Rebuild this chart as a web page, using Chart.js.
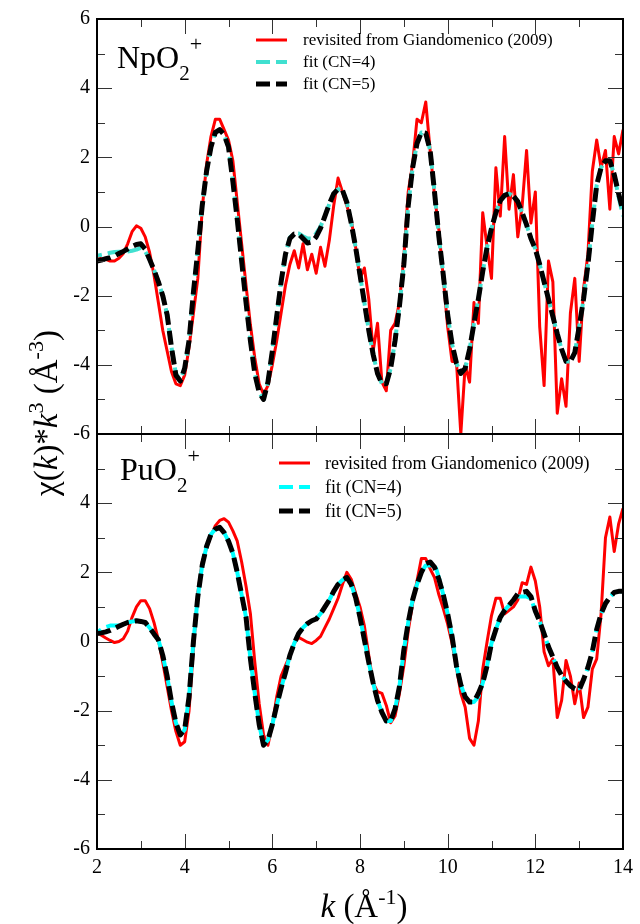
<!DOCTYPE html>
<html>
<head>
<meta charset="utf-8">
<script src="https://cdn.jsdelivr.net/npm/chart.js@4.4.1/dist/chart.umd.min.js"></script>
<style>
  html, body { margin: 0; padding: 0; background: #fff; }
  #wrap { position: relative; width: 640px; height: 924px; }
</style>
</head>
<body>
<div id="wrap"><canvas id="chi" width="640" height="924"></canvas></div>
<script>
// EXAFS chi(k)*k^3 for NpO2+ (top) and PuO2+ (bottom): data vs. two fits

const SERIF = "'Liberation Serif', 'Times New Roman', serif";

const kGrid = [
  2.0, 2.1, 2.2, 2.3, 2.4, 2.5, 2.6, 2.7, 2.8, 2.9,
  3.0, 3.1, 3.2, 3.3, 3.4, 3.5, 3.6, 3.7, 3.8, 3.9,
  4.0, 4.1, 4.2, 4.3, 4.4, 4.5, 4.6, 4.7, 4.8, 4.9,
  5.0, 5.1, 5.2, 5.3, 5.4, 5.5, 5.6, 5.7, 5.8, 5.9,
  6.0, 6.1, 6.2, 6.3, 6.4, 6.5, 6.6, 6.7, 6.8, 6.9,
  7.0, 7.1, 7.2, 7.3, 7.4, 7.5, 7.6, 7.7, 7.8, 7.9,
  8.0, 8.1, 8.2, 8.3, 8.4, 8.5, 8.6, 8.7, 8.8, 8.9,
  9.0, 9.1, 9.2, 9.3, 9.4, 9.5, 9.6, 9.7, 9.8, 9.9,
  10.0, 10.1, 10.2, 10.3, 10.4, 10.5, 10.6, 10.7, 10.8, 10.9,
  11.0, 11.1, 11.2, 11.3, 11.4, 11.5, 11.6, 11.7, 11.8, 11.9,
  12.0, 12.1, 12.2, 12.3, 12.4, 12.5, 12.6, 12.7, 12.8, 12.9,
  13.0, 13.1, 13.2, 13.3, 13.4, 13.5, 13.6, 13.7, 13.8, 13.9,
  14.0
];

// NpO2+ panel
const npExp = [
  -0.9, -0.93, -0.95, -1.0, -1.0, -0.92, -0.78, -0.5, -0.15, 0.02,
  -0.05, -0.3, -0.75, -1.4, -2.2, -3.0, -3.6, -4.2, -4.55, -4.6,
  -4.3, -3.5, -2.5, -1.5, 0.5, 1.8, 2.6, 3.1, 3.1, 2.8,
  2.5, 1.9, 0.7, -0.5, -1.7, -2.85, -3.8, -4.55, -4.85, -4.6,
  -4.0, -3.3, -2.5, -1.7, -1.1, -0.7, -1.2, -0.5, -1.25, -0.8,
  -1.35, -0.6, -1.15, -0.4, 0.6, 1.4, 1.0, 0.6, 0.2, -0.6,
  -1.5, -1.2, -2.1, -3.6, -2.8, -4.5, -4.75, -3.0, -2.8, -2.2,
  -0.9, 1.0, 1.8, 3.1, 3.0, 3.6, 2.2, 0.9, -0.1, -1.5,
  -2.9, -3.9, -3.9, -6.0, -4.0, -4.5, -2.2, -2.8, 0.4, -0.6,
  -1.5, 1.7, 0.3, 2.6, 0.5, 1.5, -0.3, 0.6, 2.2, 0.1,
  1.0, -2.9, -4.6, -1.0, -1.6, -5.4, -4.4, -5.2, -2.5, -1.5,
  -3.9, -1.8, -0.8, 1.6, 2.5, 1.7, 2.2, 0.5, 2.6, 2.1,
  2.8
];
const npFit4 = [
  -0.85, -0.82, -0.79, -0.76, -0.74, -0.73, -0.73, -0.72, -0.7, -0.67,
  -0.62, -0.72, -0.95, -1.25, -1.6, -2.0, -2.55, -3.5, -4.25, -4.45,
  -4.1, -3.3, -1.9, -0.7, 0.6, 1.6, 2.3, 2.72, 2.8, 2.65,
  2.3, 1.3, 0.2, -1.0, -2.2, -3.3, -4.25, -4.8, -5.0, -4.5,
  -3.6, -2.6, -1.6, -0.8, -0.32, -0.2, -0.2, -0.28, -0.35, -0.35,
  -0.2, 0.0, 0.3, 0.65, 0.95, 1.08, 1.05, 0.7, 0.1, -0.6,
  -1.4, -2.2, -3.0, -3.7, -4.25, -4.55, -4.55, -4.1, -3.3, -2.3,
  -1.1, 0.6, 1.7, 2.4, 2.72, 2.7, 2.2, 1.0, -0.3, -1.4,
  -2.55, -3.4, -3.95, -4.25, -4.1, -3.55, -2.8, -2.1, -1.3, -0.6,
  -0.05, 0.4, 0.75, 0.9, 0.95, 0.88, 0.72, 0.4, 0.05, -0.35,
  -0.65, -1.1, -1.6, -2.1, -2.6, -3.1, -3.55, -3.9, -3.9, -3.65,
  -2.9, -2.1, -1.1, 0.1, 1.2, 1.7, 1.9, 1.9, 1.5, 0.85,
  0.3
];
const npFit5 = [
  -1.0, -0.97, -0.93, -0.9, -0.85, -0.78, -0.72, -0.65, -0.58, -0.52,
  -0.5, -0.65, -0.95, -1.25, -1.6, -2.0, -2.55, -3.5, -4.3, -4.47,
  -4.1, -3.3, -1.9, -0.7, 0.6, 1.6, 2.3, 2.72, 2.8, 2.65,
  2.3, 1.3, 0.2, -1.0, -2.2, -3.3, -4.25, -4.8, -5.0, -4.5,
  -3.6, -2.6, -1.6, -0.8, -0.35, -0.22, -0.22, -0.35, -0.48, -0.45,
  -0.3, -0.05, 0.3, 0.65, 0.95, 1.08, 1.05, 0.7, 0.1, -0.6,
  -1.4, -2.2, -3.0, -3.7, -4.25, -4.55, -4.55, -4.1, -3.3, -2.3,
  -1.1, 0.6, 1.7, 2.4, 2.72, 2.7, 2.2, 1.0, -0.3, -1.4,
  -2.55, -3.4, -3.95, -4.25, -4.1, -3.55, -2.8, -2.1, -1.3, -0.6,
  -0.05, 0.4, 0.75, 0.9, 0.95, 0.88, 0.72, 0.4, 0.05, -0.35,
  -0.65, -1.1, -1.6, -2.1, -2.6, -3.1, -3.55, -3.9, -3.9, -3.65,
  -2.9, -2.1, -1.1, 0.1, 1.2, 1.7, 1.9, 1.9, 1.5, 0.95,
  0.45
];

// PuO2+ panel
const puExp = [
  0.26, 0.18, 0.1, 0.03, -0.03, 0.0, 0.08, 0.3, 0.7, 1.0,
  1.18, 1.18, 0.95, 0.55, 0.05, -0.6, -1.3, -2.0, -2.6, -3.0,
  -2.9, -2.0, -0.2, 1.4, 2.3, 2.7, 3.05, 3.35, 3.5, 3.55,
  3.45, 3.2, 2.9, 2.3, 1.6, 0.8, -0.6, -1.8, -2.7, -3.0,
  -2.4, -1.6, -1.0, -0.7, -0.4, -0.05, 0.12, 0.05, -0.02, -0.06,
  0.03, 0.15, 0.4, 0.65, 0.95, 1.25, 1.65, 2.0, 1.8, 1.4,
  1.0, 0.45, -0.4, -1.2, -1.45, -1.5, -1.85, -2.35, -2.15, -1.5,
  -0.7, 0.3, 1.1, 1.75, 2.4, 2.4, 2.1, 1.85, 1.35, 0.95,
  0.5, -0.05, -0.75, -1.5, -1.9, -2.8, -3.0, -2.3, -0.8, 0.0,
  0.75, 1.25, 1.25, 0.8, 0.9, 1.0, 1.2, 1.7, 1.65, 2.15,
  1.75, 1.0, -0.3, -0.7, -0.5, -2.2, -1.7, -0.55, -1.0, -1.8,
  -1.2, -2.2, -1.9, -0.8, -0.5, 0.8, 3.0, 3.6, 2.6, 3.4,
  3.85
];
const puFit4 = [
  0.26, 0.35, 0.42, 0.46, 0.46, 0.46, 0.5, 0.55, 0.58, 0.6,
  0.58, 0.55, 0.4, 0.22, 0.05, -0.4, -1.0, -1.75, -2.35, -2.7,
  -2.55, -1.6, 0.0, 1.3, 2.2, 2.75, 3.1, 3.25, 3.3, 3.15,
  2.9, 2.55, 2.0, 1.35, 0.7, -0.5, -1.5, -2.4, -3.0, -2.85,
  -2.4, -1.85, -1.35, -0.9, -0.4, -0.05, 0.23, 0.4, 0.52, 0.6,
  0.65, 0.8, 1.0, 1.2, 1.45, 1.65, 1.78, 1.85, 1.65, 1.27,
  0.7, 0.05, -0.6, -1.2, -1.7, -2.05, -2.3, -2.3, -1.95, -1.3,
  -0.25, 0.55, 1.2, 1.65, 2.0, 2.2, 2.2, 2.25, 1.85, 1.35,
  0.8, 0.15, -0.7, -1.25, -1.6, -1.75, -1.75, -1.6, -1.2, -0.7,
  -0.05, 0.35, 0.7, 0.9, 1.05, 1.2, 1.3, 1.3, 1.3, 1.25,
  0.88, 0.58, 0.22, -0.15, -0.45, -0.75, -0.98, -1.15, -1.3, -1.37,
  -1.35, -1.1, -0.75, -0.3, 0.35, 0.8, 1.1, 1.28, 1.42, 1.45,
  1.45
];
const puFit5 = [
  0.23, 0.25, 0.28, 0.32, 0.38, 0.44, 0.5, 0.55, 0.58, 0.6,
  0.58, 0.55, 0.4, 0.22, 0.05, -0.4, -1.0, -1.75, -2.35, -2.7,
  -2.55, -1.6, 0.0, 1.3, 2.2, 2.75, 3.1, 3.25, 3.3, 3.15,
  2.9, 2.55, 2.0, 1.35, 0.7, -0.5, -1.5, -2.4, -3.0, -2.85,
  -2.4, -1.85, -1.35, -0.9, -0.4, -0.05, 0.23, 0.4, 0.52, 0.6,
  0.65, 0.8, 1.0, 1.2, 1.45, 1.65, 1.78, 1.85, 1.65, 1.27,
  0.7, 0.05, -0.6, -1.2, -1.7, -2.05, -2.3, -2.3, -1.95, -1.3,
  -0.25, 0.55, 1.2, 1.65, 2.0, 2.25, 2.3, 2.15, 1.8, 1.35,
  0.8, 0.15, -0.7, -1.25, -1.6, -1.75, -1.75, -1.5, -1.2, -0.7,
  -0.05, 0.35, 0.7, 0.9, 1.05, 1.2, 1.38, 1.42, 1.45, 1.3,
  0.88, 0.58, 0.22, -0.15, -0.45, -0.75, -0.98, -1.15, -1.28, -1.37,
  -1.4, -1.1, -0.75, -0.3, 0.35, 0.8, 1.1, 1.28, 1.42, 1.45,
  1.45
];

const seriesLabels = ['revisited from Giandomenico (2009)', 'fit (CN=4)', 'fit (CN=5)'];
const kRange = [2, 14];
const chiRange = [-6, 6];

function pts(ys) {
  return kGrid.map((k, i) => ({ x: k, y: ys[i] }));
}

function fontStr(size, italic) {
  return (italic ? 'italic ' : '') + size + 'px ' + SERIF;
}

// draws a run of text pieces (for italics / sub- and superscripts)
function richWidth(ctx, parts) {
  let w = 0;
  parts.forEach(p => { ctx.font = fontStr(p.s, p.i); w += ctx.measureText(p.t).width; });
  return w;
}
function drawRich(ctx, parts, x, y) {
  ctx.textBaseline = 'alphabetic';
  ctx.textAlign = 'left';
  parts.forEach(p => {
    ctx.font = fontStr(p.s, p.i);
    ctx.fillText(p.t, x, y - (p.r || 0));
    x += ctx.measureText(p.t).width;
  });
}

const frameTicks = {
  id: 'frameTicks',
  afterDraw(chart) {
    const { ctx, chartArea: a, scales } = chart;
    const xs = scales.x;
    ctx.save();
    ctx.strokeStyle = '#000';
    const seg = (x1, y1, x2, y2) => { ctx.beginPath(); ctx.moveTo(x1, y1); ctx.lineTo(x2, y2); ctx.stroke(); };
    ['yNp', 'yPu'].forEach(id => {
      const ys = scales[id];
      const top = ys.getPixelForValue(chiRange[1]);
      const bot = ys.getPixelForValue(chiRange[0]);
      ctx.lineWidth = 1;
      ctx.strokeStyle = '#333';
      for (let v = chiRange[0]; v <= chiRange[1]; v++) {
        const py = Math.round(ys.getPixelForValue(v)) + 0.5;
        const len = v % 2 === 0 ? 15 : 8;
        seg(a.left, py, a.left + len, py);
        seg(a.right, py, a.right - len, py);
      }
      for (let k = kRange[0]; k <= kRange[1]; k++) {
        const px = Math.round(xs.getPixelForValue(k)) + 0.5;
        const len = k % 2 === 0 ? 15 : 8;
        seg(px, bot, px, bot - len);
        seg(px, top, px, top + len);
      }
      ctx.strokeStyle = '#000';
      ctx.lineWidth = 2;
      ctx.strokeRect(a.left, top, a.right - a.left, bot - top);
    });
    ctx.restore();
  }
};

const annotations = {
  id: 'annotations',
  afterDraw(chart) {
    const { ctx } = chart;
    ctx.save();
    ctx.fillStyle = '#000';

    // panel labels
    const panels = [
      { x: 117, y: 68, el: 'NpO' },
      { x: 120, y: 480, el: 'PuO' }
    ];
    panels.forEach(p => {
      drawRich(ctx, [
        { t: p.el, s: 32 },
        { t: '2', s: 21, r: -12 },
        { t: '+', s: 22, r: 17 }
      ], p.x, p.y);
    });

    // legends
    const legends = [
      { id: 'yNp', x0: 256, x1: 287, tx: 303, y0: 40, dy: 22, size: 17 },
      { id: 'yPu', x0: 279, x1: 310, tx: 325, y0: 463, dy: 24, size: 18 }
    ];
    legends.forEach(L => {
      const sets = chart.data.datasets.filter(d => d.yAxisID === L.id);
      sets.forEach((d, i) => {
        const y = L.y0 + i * L.dy;
        ctx.save();
        ctx.strokeStyle = d.borderColor;
        ctx.lineWidth = d.borderWidth;
        ctx.setLineDash(d.borderDash || []);
        ctx.beginPath();
        ctx.moveTo(L.x0, y);
        ctx.lineTo(L.x1, y);
        ctx.stroke();
        ctx.restore();
        ctx.font = fontStr(L.size, false);
        ctx.textAlign = 'left';
        ctx.textBaseline = 'middle';
        ctx.fillText(d.label, L.tx, y + 1);
      });
    });

    // x axis title
    const xt = [
      { t: 'k', s: 33, i: true },
      { t: ' (Å', s: 33 },
      { t: '-1', s: 22, r: 13 },
      { t: ')', s: 33 }
    ];
    const xw = richWidth(ctx, xt);
    drawRich(ctx, xt, 364 - xw / 2, 917);

    // y axis title (rotated)
    const yt = [
      { t: 'χ(', s: 33 },
      { t: 'k', s: 33, i: true },
      { t: ')*', s: 33 },
      { t: 'k', s: 33, i: true },
      { t: '3', s: 22, r: 14 },
      { t: ' (Å', s: 33 },
      { t: '-3', s: 22, r: 14 },
      { t: ')', s: 33 }
    ];
    const yw = richWidth(ctx, yt);
    ctx.translate(57, 413);
    ctx.rotate(-Math.PI / 2);
    drawRich(ctx, yt, -yw / 2, 0);
    ctx.restore();
  }
};

const yScale = (hideTop) => ({
  type: 'linear',
  stack: 'chi',
  stackWeight: 1,
  min: chiRange[0],
  max: chiRange[1],
  grid: { display: false, drawTicks: false },
  border: { display: false },
  ticks: {
    stepSize: 2,
    padding: 7,
    color: '#000',
    font: { family: SERIF, size: 20 },
    callback: v => (hideTop && v === chiRange[1]) ? '' : String(v)
  },
  afterFit: s => { s.width = 97; }
});

const lineSet = (label, ys, axis, color, width, dash, dashOffset, order) => ({
  label: label,
  data: pts(ys),
  yAxisID: axis,
  borderColor: color,
  borderWidth: width,
  borderDash: dash,
  borderDashOffset: dashOffset,
  order: order,
  pointRadius: 0,
  tension: 0,
  borderJoinStyle: 'round',
  fill: false
});

new Chart(document.getElementById('chi'), {
  type: 'line',
  data: {
    datasets: [
      lineSet(seriesLabels[0], npExp, 'yNp', '#ff0000', 3, [], 0, 2),
      lineSet(seriesLabels[1], npFit4, 'yNp', '#40e0d0', 4, [14, 6], 9, 1),
      lineSet(seriesLabels[2], npFit5, 'yNp', '#000000', 5, [14, 6], 0, 0),
      lineSet(seriesLabels[0], puExp, 'yPu', '#ff0000', 3, [], 0, 2),
      lineSet(seriesLabels[1], puFit4, 'yPu', '#00ffff', 4, [14, 6], 9, 1),
      lineSet(seriesLabels[2], puFit5, 'yPu', '#000000', 5, [14, 6], 0, 0)
    ]
  },
  options: {
    responsive: false,
    animation: false,
    events: [],
    layout: { padding: { top: 17, right: 14, left: 0, bottom: 0 } },
    plugins: {
      legend: { display: false },
      tooltip: { enabled: false }
    },
    scales: {
      x: {
        type: 'linear',
        min: kRange[0],
        max: kRange[1],
        grid: { display: false, drawTicks: false },
        border: { display: false },
        ticks: {
          stepSize: 2,
          padding: 7,
          maxRotation: 0,
          color: '#000',
          font: { family: SERIF, size: 20 }
        },
        afterFit: s => { s.height = 75; }
      },
      yPu: yScale(true),
      yNp: yScale(false)
    }
  },
  plugins: [frameTicks, annotations]
});
</script>
</body>
</html>
